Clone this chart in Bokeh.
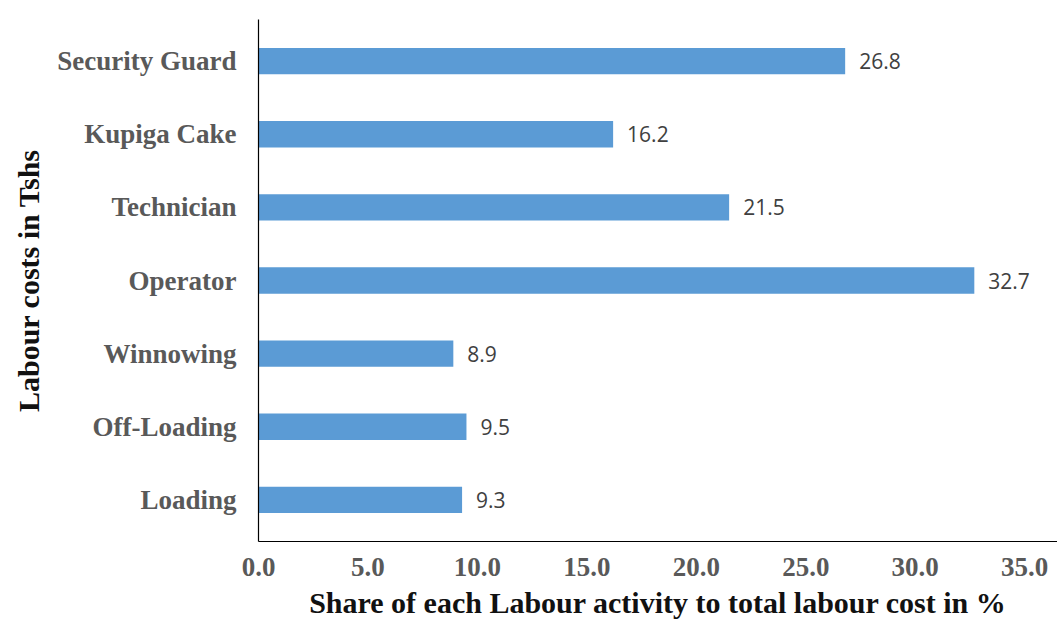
from bokeh.plotting import figure
from bokeh.models import FactorRange, Range1d, FixedTicker, ColumnDataSource, LabelSet, CustomJSTickFormatter
from bokeh.core.properties import value
from bokeh.embed import file_html
from bokeh.resources import INLINE

categories = ["Loading", "Off-Loading", "Winnowing", "Operator", "Technician", "Kupiga Cake", "Security Guard"]
shares = [9.3, 9.5, 8.9, 32.7, 21.5, 16.2, 26.8]
x_ticks = [0, 5, 10, 15, 20, 25, 30, 35]

labels = [f"{v:.1f}" for v in shares]
src = ColumnDataSource(dict(cat=categories, val=shares, lab=labels))

p = figure(width=1057, height=621, output_backend="svg", toolbar_location=None,
           y_range=FactorRange(factors=categories, range_padding=0.02),
           x_range=Range1d(0, 36.5),
           min_border_left=258, min_border_right=0, min_border_top=19, min_border_bottom=0)

p.hbar(y="cat", right="val", height=0.36, left=0, source=src, color="#5B9BD5", line_color=None)

p.add_layout(LabelSet(x="val", y="cat", text="lab", source=src, x_offset=14,
                      text_baseline="middle", text_align="left",
                      text_font=value("Open Sans"), text_font_size="21px", text_color="#404040"))

p.outline_line_color = None
p.xgrid.grid_line_color = None
p.ygrid.grid_line_color = None

p.xaxis.ticker = FixedTicker(ticks=x_ticks)
p.xaxis.formatter = CustomJSTickFormatter(code="return tick.toFixed(1);")
for ax in (p.xaxis[0], p.yaxis[0]):
    ax.major_tick_line_color = None
    ax.minor_tick_line_color = None
    ax.axis_line_color = "#000000"
    ax.axis_line_width = 1.2
    ax.major_label_text_font = "Liberation Serif"
    ax.major_label_text_font_style = "bold"
    ax.major_label_text_color = "#595959"
    ax.major_label_text_font_size = "27px"
    ax.axis_label_text_font = "Liberation Serif"
    ax.axis_label_text_font_style = "bold"
    ax.axis_label_text_font_size = "30px"
    ax.axis_label_text_color = "#111111"

p.xaxis.major_label_standoff = 10
p.xaxis.axis_label = "Share of each Labour activity to total labour cost in %"
p.xaxis.axis_label_standoff = 7
p.yaxis.major_label_standoff = 16
p.yaxis.axis_label = "Labour costs in Tshs"
p.yaxis.axis_label_standoff = 9

open("out.html", "w").write(file_html(p, INLINE))
